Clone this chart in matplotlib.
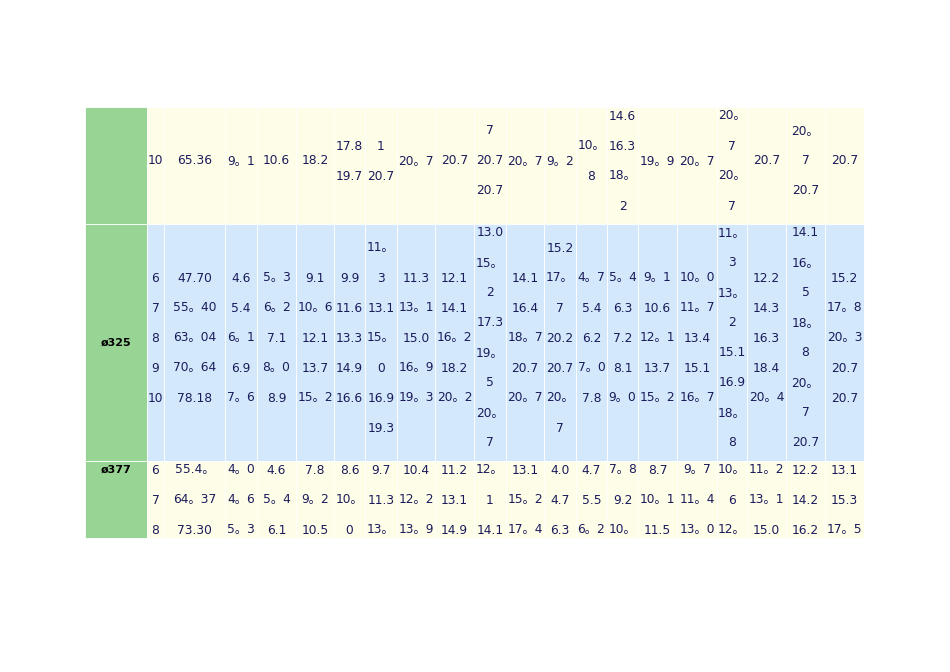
import matplotlib
matplotlib.use("Agg")
import matplotlib.pyplot as plt
from matplotlib.patches import Rectangle

row_labels = ["", "ø325", "ø377"]
row1 = ["10", "65.36", "9。1", "10.6", "18.2", "17.8\n19.7", "1\n20.7", "20。7", "20.7",
        "7\n20.7\n20.7", "20。7", "9。2", "10。\n8", "14.6\n16.3\n18。\n2", "19。9", "20。7",
        "20。\n7\n20。\n7", "20.7", "20。\n7\n20.7", "20.7"]
row2 = ["6\n7\n8\n9\n10", "47.70\n55。40\n63。04\n70。64\n78.18", "4.6\n5.4\n6。1\n6.9\n7。6",
        "5。3\n6。2\n7.1\n8。0\n8.9", "9.1\n10。6\n12.1\n13.7\n15。2", "9.9\n11.6\n13.3\n14.9\n16.6",
        "11。\n3\n13.1\n15。\n0\n16.9\n19.3", "11.3\n13。1\n15.0\n16。9\n19。3",
        "12.1\n14.1\n16。2\n18.2\n20。2", "13.0\n15。\n2\n17.3\n19。\n5\n20。\n7",
        "14.1\n16.4\n18。7\n20.7\n20。7", "15.2\n17。\n7\n20.2\n20.7\n20。\n7",
        "4。7\n5.4\n6.2\n7。0\n7.8", "5。4\n6.3\n7.2\n8.1\n9。0", "9。1\n10.6\n12。1\n13.7\n15。2",
        "10。0\n11。7\n13.4\n15.1\n16。7", "11。\n3\n13。\n2\n15.1\n16.9\n18。\n8",
        "12.2\n14.3\n16.3\n18.4\n20。4", "14.1\n16。\n5\n18。\n8\n20。\n7\n20.7",
        "15.2\n17。8\n20。3\n20.7\n20.7"]
row3 = ["6\n7\n8", "55.4。\n64。37\n73.30", "4。0\n4。6\n5。3", "4.6\n5。4\n6.1", "7.8\n9。2\n10.5",
        "8.6\n10。\n0", "9.7\n11.3\n13。", "10.4\n12。2\n13。9", "11.2\n13.1\n14.9", "12。\n1\n14.1",
        "13.1\n15。2\n17。4", "4.0\n4.7\n6.3", "4.7\n5.5\n6。2", "7。8\n9.2\n10。", "8.7\n10。1\n11.5",
        "9。7\n11。4\n13。0", "10。\n6\n12。", "11。2\n13。1\n15.0", "12.2\n14.2\n16.2", "13.1\n15.3\n17。5"]
rows = [row1, row2, row3]

# layout (pixels)
col_edges = [147, 164, 225, 257, 296, 334, 365, 397, 435, 474, 506, 544, 576, 607, 638, 677, 717, 747, 786, 825, 864]
row_edges = [107, 224, 461, 538]
text_centers = [161, 338, 500]
label_y = [161, 343, 470]
row_colors = ["#fefee8", "#d3e9fb", "#fefee8"]
green = "#98d493"
tcol = "#1b1b5c"
fam = ["DejaVu Sans", "Noto Sans CJK SC"]

fig = plt.figure(figsize=(9.5, 6.72), dpi=100)
ax = fig.add_axes([0, 0, 1, 1])
ax.set_xlim(0, 950)
ax.set_ylim(672, 0)
ax.axis("off")

for r, cells in enumerate(rows):
    y0, y1 = row_edges[r], row_edges[r + 1]
    ax.add_patch(Rectangle((85, y0), 147 - 85, y1 - y0, facecolor=green, edgecolor="white", lw=0.6))
    ax.text(116, label_y[r], row_labels[r], ha="center", va="center", fontsize=8,
            fontweight="bold", color="black", family=fam)
    for c, txt in enumerate(cells):
        x0, x1 = col_edges[c], col_edges[c + 1]
        ax.add_patch(Rectangle((x0, y0), x1 - x0, y1 - y0, facecolor=row_colors[r],
                               edgecolor="white", lw=0.6))
        lines = txt.split("\n")
        n = len(lines)
        for i, ln in enumerate(lines):
            y = text_centers[r] + (i - (n - 1) / 2) * 30
            ax.text((x0 + x1) / 2, y, ln, ha="center", va="center", fontsize=8.8,
                    color=tcol, family=fam)

fig.savefig("out.png", dpi=100)
